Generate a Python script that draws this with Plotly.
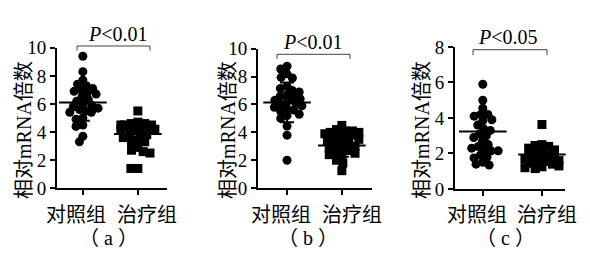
import numpy as np
import plotly.graph_objects as go

W, H = 590, 272

groups = ["对照组", "治疗组"]
panel_labels = ["（ a ）", "（ b ）", "（ c ）"]
p_labels = ["<i>P</i>&lt;0.01", "<i>P</i>&lt;0.01", "<i>P</i>&lt;0.05"]
y_title = "相对mRNA倍数"
y_max = [10, 10, 8]
y_tick_step = 2

# ---- data ----
a_control = [9.4, 8.3, 7.7, 7.4, 7.3, 7.1, 7.0, 6.9, 6.8, 6.7, 6.5, 6.3, 6.2, 6.0,
             5.9, 5.8, 5.7, 5.6, 5.5, 5.4, 5.4, 5.0, 4.9, 4.5, 4.4, 3.7, 3.3]
a_treat = [5.5, 4.7, 4.6, 4.6, 4.5, 4.5, 4.5, 4.4, 4.4, 4.4, 4.3, 4.3, 4.2, 4.2,
           4.1, 3.9, 3.8, 3.7, 3.6, 3.4, 3.3, 3.2, 2.9, 2.7, 2.6, 2.5, 1.4, 1.4]
b_control = [8.75, 8.55, 8.2, 7.95, 7.9, 7.3, 7.15, 7.0, 6.9, 6.7, 6.6, 6.5, 6.4, 6.3,
             6.2, 6.1, 6.0, 5.9, 5.8, 5.7, 5.6, 5.5, 5.3, 5.2, 5.0, 4.45, 3.8, 2.0]
b_treat = [4.5, 4.2, 4.1, 4.1, 4.0, 4.0, 3.9, 3.8, 3.8, 3.7, 3.6, 3.5, 3.4, 3.3,
           3.2, 3.1, 3.0, 2.9, 2.8, 2.7, 2.6, 2.5, 2.4, 2.3, 2.0, 1.8, 1.25]
c_control = [5.9, 5.0, 4.55, 4.2, 4.2, 4.1, 3.9, 3.85, 3.6, 3.4, 3.3, 3.1, 3.0, 2.9,
             2.7, 2.5, 2.4, 2.3, 2.2, 2.15, 2.15, 1.9, 1.8, 1.75, 1.5, 1.4, 1.35]
c_treat = [3.63, 2.5, 2.45, 2.4, 2.3, 2.2, 2.1, 2.0, 1.9, 1.85, 1.8, 1.8, 1.75, 1.7,
           1.6, 1.55, 1.5, 1.45, 1.4, 1.3, 1.25, 1.2, 1.15]

means = [[6.1, 3.85], [6.15, 3.05], [3.24, 1.95]]
sds = [[1.3, 0.65], [1.42, 0.8], [1.02, 0.55]]

panels = [[a_control, a_treat], [b_control, b_treat], [c_control, c_treat]]

# ---- layout geometry (pixels) ----
x_px = [(57, 167), (258, 372), (455, 565)]
y_px = [(41, 193), (42, 193), (40, 194)]
x_ranges = [[-0.47, 1.53], [-0.53, 1.55], [-0.47, 1.39]]
ytitle_x = [24, 228, 422]
cat_label_x = [(76, 147), (281, 352), (477, 547)]
panel_label_x = [108, 308, 505]
p_text_pos = [(118, 26), (313, 35), (508, 29)]
bracket = [(77, 150, 39, 44), (277, 350, 48, 53), (473, 547, 43, 49)]

SERIF = "Liberation Serif, Noto Sans CJK SC"
CJK = "Noto Sans CJK SC"


def swarm(vals, ppu_y, d, max_off):
    vals = np.asarray(vals, dtype=float)
    order = np.argsort(-vals, kind="stable")
    placed = []
    xs = np.zeros(len(vals))
    for i in order:
        y = vals[i] * ppu_y
        cands = [0.0]
        for px, py in placed:
            dy = abs(py - y)
            if dy < d:
                dx = np.sqrt(d * d - dy * dy)
                cands += [px + dx, px - dx]
        cands.sort(key=lambda c: (abs(c), c))
        best = None
        for c in cands:
            if abs(c) > max_off:
                continue
            if all((c - px) ** 2 + (y - py) ** 2 >= d * d - 1e-6 for px, py in placed):
                best = c
                break
        if best is None:
            # no free slot inside the allowed width: take the least crowded one
            grid = np.linspace(-max_off, max_off, 9)
            score = [min([(g - px) ** 2 + (y - py) ** 2 for px, py in placed] or [1e9])
                     for g in grid]
            best = float(grid[int(np.argmax(score))])
        xs[i] = best
        placed.append((best, y))
    return xs


fig = go.Figure()
layout = dict(width=W, height=H, margin=dict(l=0, r=0, t=0, b=0),
              paper_bgcolor="white", plot_bgcolor="white", showlegend=False)
annotations = []
shapes = []

for p in range(3):
    sfx = "" if p == 0 else str(p + 1)
    xa, ya = "x" + sfx, "y" + sfx
    x0, x1 = x_px[p]
    yt, yb = y_px[p]
    ppu_y = (yb - yt) / y_max[p]
    ppu_x = (x1 - x0) / (x_ranges[p][1] - x_ranges[p][0])
    for g in range(2):
        vals = panels[p][g]
        offs = swarm(vals, ppu_y, 7.0, 17) / ppu_x
        fig.add_trace(go.Scatter(
            x=g + offs, y=vals, mode="markers", xaxis=xa, yaxis=ya,
            marker=dict(symbol="circle" if g == 0 else "square", size=9,
                        color="black", line=dict(width=0)),
            cliponaxis=False, hoverinfo="skip"))
        fig.add_trace(go.Scatter(
            x=[g], y=[means[p][g]], mode="markers", xaxis=xa, yaxis=ya,
            marker=dict(symbol="line-ew-open", size=34, color="black",
                        line=dict(width=2, color="black")),
            error_y=dict(type="data", array=[sds[p][g]], width=7,
                         thickness=2, color="black"),
            cliponaxis=False, hoverinfo="skip"))

    layout["xaxis" + sfx] = dict(
        domain=[x0 / W, x1 / W], range=x_ranges[p], anchor=ya,
        showline=True, linecolor="black", linewidth=2, showgrid=False,
        zeroline=False, ticks="outside", ticklen=5, tickwidth=2,
        tickcolor="black", tickvals=[0, 1], showticklabels=False,
        fixedrange=True)
    layout["yaxis" + sfx] = dict(
        domain=[1 - yb / H, 1 - yt / H], range=[0, y_max[p]], anchor=xa,
        showline=True, linecolor="black", linewidth=2, showgrid=False,
        zeroline=False, ticks="outside", ticklen=5, tickwidth=2,
        tickcolor="black", dtick=y_tick_step, tick0=0,
        tickfont=dict(family=SERIF, size=19, color="black"),
        fixedrange=True)

    annotations.append(dict(
        text=y_title, x=ytitle_x[p] / W, y=1 - 130 / H, xref="paper",
        yref="paper", textangle=-90, showarrow=False, xanchor="center",
        yanchor="middle", font=dict(family=SERIF, size=20, color="black")))
    for g in range(2):
        annotations.append(dict(
            text=groups[g], x=cat_label_x[p][g] / W, y=1 - 220 / H,
            xref="paper", yref="paper", showarrow=False, xanchor="center",
            yanchor="middle", font=dict(family=CJK, size=20, color="black")))
    annotations.append(dict(
        text=panel_labels[p], x=panel_label_x[p] / W, y=1 - 247 / H,
        xref="paper", yref="paper", showarrow=False, xanchor="center",
        yanchor="middle", font=dict(family=SERIF, size=20, color="black")))
    annotations.append(dict(
        text=p_labels[p], x=p_text_pos[p][0] / W, y=1 - p_text_pos[p][1] / H,
        xref="paper", yref="paper", showarrow=False, xanchor="center",
        yanchor="middle", font=dict(family=SERIF, size=20, color="black")))
    bx0, bx1, by0, by1 = bracket[p]
    shapes.append(dict(
        type="path", xref="paper", yref="paper",
        path="M {a},{c} L {a},{d} L {b},{d} L {b},{c}".format(
            a=bx0 / W, b=bx1 / W, c=1 - by1 / H, d=1 - by0 / H),
        line=dict(color="#444444", width=1)))

layout["annotations"] = annotations
layout["shapes"] = shapes
fig.update_layout(**layout)
fig.write_html("out.html")
